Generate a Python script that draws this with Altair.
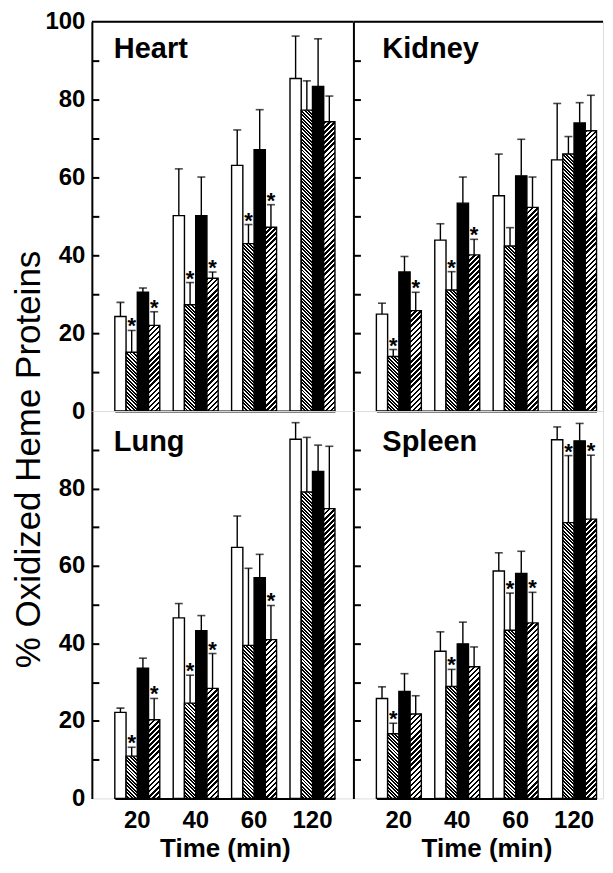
import math
import altair as alt
import pandas as pd

# ---------------- data ----------------
times = ["20", "40", "60", "120"]
series = ["Open", "Fine hatch", "Solid", "Coarse hatch"]
organs = ["Heart", "Kidney", "Lung", "Spleen"]
major_ticks_top = [0, 20, 40, 60, 80, 100]
major_ticks_bottom = [0, 20, 40, 60, 80]
minor_ticks = [10, 20, 30, 40, 50, 60, 70, 80, 90]

# rows = time (20, 40, 60, 120); columns = series order above
heart_mean = [[24.3, 15.1, 30.5, 22.0], [50.2, 27.3, 50.2, 34.1],
              [63.1, 43.0, 67.1, 47.2], [85.4, 77.3, 83.4, 74.3]]
heart_err = [[27.9, 20.7, 31.6, 25.5], [62.2, 33.0, 60.1, 35.7],
             [72.2, 47.9, 77.4, 53.0], [96.3, 84.8, 95.6, 80.9]]
heart_star = [[0, 1, 0, 1], [0, 1, 0, 1], [0, 1, 0, 1], [0, 0, 0, 0]]

kidney_mean = [[24.9, 14.0, 35.7, 25.8], [43.9, 31.1, 53.4, 40.1],
               [55.3, 42.4, 60.4, 52.3], [64.5, 66.0, 74.0, 72.0]]
kidney_err = [[27.7, 15.8, 39.7, 30.5], [48.1, 35.8, 60.1, 44.1],
              [66.0, 47.1, 69.8, 60.1], [79.0, 70.5, 79.2, 81.1]]
kidney_star = [[0, 1, 0, 1], [0, 1, 0, 1], [0, 0, 0, 0], [0, 0, 0, 0]]

lung_mean = [[22.2, 10.9, 33.6, 20.3], [46.6, 24.6, 43.3, 28.4],
             [64.8, 39.5, 57.0, 41.0], [92.7, 79.1, 84.4, 74.8]]
lung_err = [[23.3, 13.2, 36.2, 25.8], [50.3, 31.8, 47.2, 37.4],
            [72.9, 59.4, 63.0, 49.8], [97.0, 93.2, 91.2, 90.9]]
lung_star = [[0, 1, 0, 1], [0, 1, 0, 1], [0, 0, 0, 1], [0, 0, 0, 0]]

spleen_mean = [[25.8, 16.7, 27.6, 21.8], [38.0, 28.9, 39.9, 34.0],
               [58.7, 43.4, 58.1, 45.3], [92.6, 71.2, 92.3, 72.1]]
spleen_err = [[28.8, 19.4, 32.2, 26.5], [43.0, 33.3, 45.5, 39.1],
              [63.4, 53.0, 63.8, 53.2], [95.9, 88.5, 96.8, 88.6]]
spleen_star = [[0, 1, 0, 0], [0, 1, 0, 0], [0, 1, 0, 1], [0, 1, 0, 1]]

# ---------------- layout / style ----------------
H_TOP = 390
H_BOTTOM = 388
W_LEFT = 262
W_RIGHT = 250
X_RANGE = [23, 243.5]
PAD_INNER = 0.23
STEP = (X_RANGE[1] - X_RANGE[0]) / (len(times) - PAD_INNER)
BAR_W = STEP * (1 - PAD_INNER) / len(series)
FONT = "Liberation Sans"


def frame(mean, err, star):
    rows = []
    for i, t in enumerate(times):
        for j, s in enumerate(series):
            rows.append(dict(time=t, series=s, value=mean[i][j],
                             err=err[i][j], star="*" if star[i][j] else ""))
    return pd.DataFrame(rows)


def hatch(w, h, period, frac, direction):
    """Striped linear gradient giving 45-degree hatching on a w x h bar."""
    s = w * w + h * h
    ax = w * (w + h) / s
    ay = h * (w + h) / s
    if direction == "/":
        x1, y1, x2, y2 = 0, 0, ax, ay
    else:
        x1, y1, x2, y2 = 1, 0, 1 - ax, ay
    pt = period * math.sqrt(2) / (w + h)
    stops = []
    t = 0.0
    while t < 1:
        b = min(t + frac * pt, 1)
        c = min(t + pt, 1)
        stops += [alt.GradientStop(offset=round(t, 5), color="black"),
                  alt.GradientStop(offset=round(b, 5), color="black"),
                  alt.GradientStop(offset=round(b, 5), color="white"),
                  alt.GradientStop(offset=round(c, 5), color="white")]
        t += pt
    return alt.LinearGradient(gradient="linear", stops=stops,
                              x1=x1, y1=y1, x2=x2, y2=y2)


yscale = alt.Scale(domain=[0, 100], nice=False, zero=True)


def panel(name, mean, err, star, width, top, left):
    H = H_TOP if top else H_BOTTOM
    df = frame(mean, err, star)
    base = alt.Chart(df)

    if top:
        xaxis = alt.Axis(labels=False, ticks=False, title=None, domain=True,
                         domainColor="black", domainWidth=2, grid=False)
    else:
        xaxis = alt.Axis(labels=True, ticks=False, tickSize=0, labelAngle=0,
                         labelFont=FONT, labelFontSize=24, labelFontWeight="bold",
                         labelColor="black", labelPadding=10, grid=False,
                         title="Time (min)", titleFont=FONT, titleFontSize=26,
                         titleFontWeight="bold", titleColor="black", titlePadding=3,
                         domain=True, domainColor="black", domainWidth=2)
    if left:
        vals = major_ticks_top if top else major_ticks_bottom
        kw = dict(values=vals, labels=True, ticks=False, tickSize=0, grid=False,
                  labelFont=FONT, labelFontSize=24, labelFontWeight="bold",
                  labelColor="black", labelPadding=7, labelFlush=False,
                  labelOverlap=False, domain=True, domainColor="black",
                  domainWidth=2)
        if top:
            kw.update(title="% Oxidized Heme Proteins", titleFont=FONT,
                      titleFontSize=35, titleFontWeight="normal",
                      titleColor="black", titleAngle=270, titleX=-52,
                      titleY=438, titleAlign="center",
                      titleBaseline="alphabetic")
        else:
            kw.update(title=None)
        yaxis = alt.Axis(**kw)
    else:
        yaxis = alt.Axis(values=major_ticks_top, labels=False, ticks=False,
                         grid=False, title=None, domain=True,
                         domainColor="black", domainWidth=2)

    def Y(field):
        return alt.Y(field + ":Q", scale=yscale, axis=yaxis)

    xenc = alt.X("time:N", sort=times,
                 scale=alt.Scale(domain=times, range=X_RANGE,
                                 paddingInner=PAD_INNER, paddingOuter=0),
                 axis=xaxis)
    xoff = alt.XOffset("series:N", sort=series,
                       scale=alt.Scale(domain=series, paddingInner=0,
                                       paddingOuter=0))

    plain = base.transform_filter(
        alt.FieldOneOfPredicate(field="series", oneOf=[series[0], series[2]])
    ).mark_bar(stroke="black", strokeWidth=1.4).encode(
        x=xenc, xOffset=xoff, y=Y("value"),
        fill=alt.Fill("series:N",
                      scale=alt.Scale(domain=[series[0], series[2]],
                                      range=["white", "black"]),
                      legend=None))
    layers = [plain]

    for j, (period, frac, direc) in ((1, (2.5, 0.55, "\\")), (3, (3.6, 0.5, "/"))):
        for i, t in enumerate(times):
            grad = hatch(BAR_W, mean[i][j] * H / 100.0, period, frac, direc)
            layers.append(
                base.transform_filter(
                    (alt.datum.series == series[j]) & (alt.datum.time == t)
                ).mark_bar(fill=grad, stroke="black", strokeWidth=1.4).encode(
                    x=xenc, xOffset=xoff, y=Y("value")))

    ebar = base.mark_rule(color="black", strokeWidth=1.4).encode(
        x=xenc, xOffset=xoff, y=Y("value"), y2=alt.Y2("err:Q"))
    caps = base.mark_tick(color="black", thickness=1.6, size=8,
                          orient="horizontal").encode(
        x=xenc, xOffset=xoff, y=Y("err"))
    stars = base.transform_filter(alt.datum.star == "*").mark_text(
        font=FONT, fontSize=22, fontWeight="bold", color="black",
        baseline="alphabetic", dy=3).encode(
        x=xenc, xOffset=xoff, y=Y("err"), text="star:N")
    layers += [ebar, caps, stars]

    if top:
        border = alt.Chart(pd.DataFrame({"edge": [100]})).mark_rule(
            color="black", strokeWidth=2).encode(
            y=Y("edge"), x=alt.value(0), x2=alt.value(width))
        layers.append(border)

    lx = 22 if left else 29
    ly = 36 if top else 40
    label = alt.Chart(pd.DataFrame({"organ": [name]})).mark_text(
        font=FONT, fontSize=29, fontWeight="bold", color="black",
        align="left", baseline="alphabetic").encode(
        text="organ:N", x=alt.value(lx), y=alt.value(ly))
    layers.append(label)

    main = alt.layer(*layers)

    # inward minor ticks: a right-oriented axis moved onto the left edge
    tick_axis = alt.Axis(orient="right", offset=-width, values=minor_ticks,
                         labels=False, domain=False, grid=False, ticks=True,
                         tickSize=7, tickWidth=2, tickColor="black",
                         title=None)
    tick_layer = alt.Chart(pd.DataFrame({"level": minor_ticks})).mark_point(
        opacity=0).encode(
        x=alt.value(0),
        y=alt.Y("level:Q", scale=yscale, axis=tick_axis))

    return alt.layer(main, tick_layer).resolve_axis(y="independent").properties(
        width=width, height=H)


p_heart = panel(organs[0], heart_mean, heart_err, heart_star, W_LEFT, True, True)
p_kidney = panel(organs[1], kidney_mean, kidney_err, kidney_star, W_RIGHT, True, False)
p_lung = panel(organs[2], lung_mean, lung_err, lung_star, W_LEFT, False, True)
p_spleen = panel(organs[3], spleen_mean, spleen_err, spleen_star, W_RIGHT, False, False)

chart = alt.concat(p_heart, p_kidney, p_lung, p_spleen, columns=2, spacing=0,
                   bounds="flush").properties(
    padding={"left": 3, "top": 0, "right": 0, "bottom": 0}
).configure_view(stroke=None).configure(font=FONT, background="white")

chart.save("out.html", embed_options={"renderer": "svg", "actions": False})
